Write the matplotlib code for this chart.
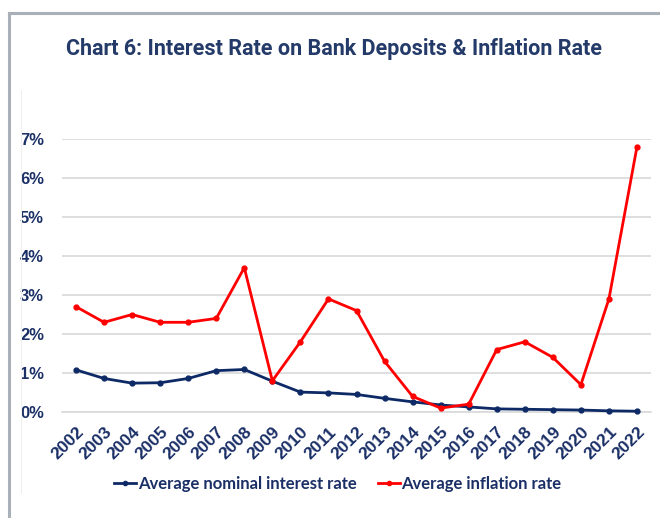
import matplotlib
matplotlib.use("Agg")
import matplotlib.pyplot as plt
from matplotlib.ticker import FuncFormatter, MultipleLocator
from matplotlib.lines import Line2D

years = [str(y) for y in range(2002, 2023)]
interest_rate = [1.08, 0.86, 0.74, 0.75, 0.86, 1.06, 1.09, 0.79, 0.51, 0.49, 0.45,
                 0.35, 0.26, 0.18, 0.13, 0.08, 0.07, 0.06, 0.05, 0.03, 0.02]
inflation_rate = [2.7, 2.3, 2.5, 2.3, 2.3, 2.4, 3.7, 0.8, 1.8, 2.9, 2.6,
                  1.3, 0.4, 0.1, 0.2, 1.6, 1.8, 1.4, 0.7, 2.9, 6.8]
title = "Chart 6: Interest Rate on Bank Deposits & Inflation Rate"
labels = ["Average nominal interest rate", "Average inflation rate"]

navy = "#0E2A66"
red = "#FF0000"
txt = "#1A2F66"

fig = plt.figure(figsize=(6.6, 5.18), dpi=100)
ax = fig.add_axes([62/660, 1-412/518, (651-62)/660, (412-139)/518])

x = list(range(len(years)))
ax.plot(x, interest_rate, color=navy, lw=2, marker="o", ms=3.5, label=labels[0], zorder=3)
ax.plot(x, inflation_rate, color=red, lw=2, marker="o", ms=3.5, label=labels[1], zorder=4)

ax.set_xlim(-0.5, len(years) - 0.5)
ax.set_ylim(0, 7.0)
ax.yaxis.set_major_locator(MultipleLocator(1))
ax.yaxis.set_major_formatter(FuncFormatter(lambda v, p: f"{v:.0f}%"))
ax.grid(axis="y", color="#D9D9D9", lw=1.2)
ax.set_axisbelow(True)
for s in ax.spines.values():
    s.set_visible(False)
ax.spines["bottom"].set_visible(True)
ax.spines["bottom"].set_color("#D9D9D9")
ax.spines["bottom"].set_linewidth(1.2)
for l in ax.get_lines():
    l.set_clip_on(False)

ax.set_xticks(x)
ax.set_xticklabels(years, rotation=45, ha="right", va="top", rotation_mode="anchor")
ax.tick_params(axis="both", length=0, labelcolor=txt)
ax.tick_params(axis="x", pad=9)
ax.tick_params(axis="y", pad=13)
for lab in ax.get_yticklabels():
    lab.set_fontfamily("Liberation Sans")
    lab.set_fontweight("bold")
    lab.set_fontsize(12)
for lab in ax.get_xticklabels():
    lab.set_fontfamily("Liberation Sans")
    lab.set_fontweight("bold")
    lab.set_fontsize(12.5)

fig.text(334/660, 1-49/518, title, ha="center", va="center",
         family=["Liberation Sans Narrow", "Roboto"], fontweight="bold",
         fontsize=15.5, color="#243A69")

handles = [Line2D([], [], color=navy, lw=2, marker="o", ms=3),
           Line2D([], [], color=red, lw=2, marker="o", ms=3)]
fig.legend(handles, labels, loc="center", bbox_to_anchor=(338/660, 1-484/518),
           ncol=2, frameon=False, handlelength=1.3, handletextpad=0.1,
           columnspacing=1.3, prop={"family": "Lato", "weight": "bold", "size": 12},
           labelcolor=txt)

# frame lines
fig.add_artist(Line2D([9/660, 9/660], [0, 1-13/518], transform=fig.transFigure,
                      color="#A9B0B8", lw=2.2))
fig.add_artist(Line2D([9/660, 1], [1-13/518, 1-13/518], transform=fig.transFigure,
                      color="#A9B0B8", lw=2.2))
fig.add_artist(Line2D([21/660, 21/660], [1-493/518, 1-90/518], transform=fig.transFigure,
                      color="#F0F0F0", lw=0.8))

fig.savefig("out.png", dpi=100)
